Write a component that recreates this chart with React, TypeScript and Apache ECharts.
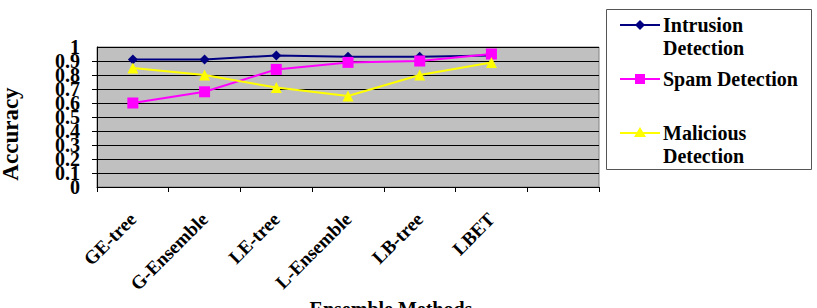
import React, { useEffect, useRef } from "react";
import * as echarts from "echarts";

const categories = ["GE-tree", "G-Ensemble", "LE-tree", "L-Ensemble", "LB-tree", "LBET", ""];
const intrusion = [0.91, 0.91, 0.94, 0.93, 0.93, 0.94];
const spam = [0.6, 0.68, 0.84, 0.89, 0.9, 0.95];
const malicious = [0.85, 0.8, 0.71, 0.65, 0.8, 0.89];
const seriesNames = ["Intrusion Detection", "Spam Detection", "Malicious Detection"];
const legendLines = [["Intrusion", "Detection"], ["Spam Detection"], ["Malicious", "Detection"]];
const colors = ["#000080", "#FF00FF", "#FFFF00"];
const symbols = ["diamond", "rect", "triangle"];

const FONT = "Times New Roman, Liberation Serif, DejaVu Serif, serif";

export default function App() {
  const ref = useRef<HTMLDivElement>(null);
  useEffect(() => {
    if (!ref.current) return;
    const chart = echarts.init(ref.current, null, { renderer: "svg" });
    const values = [intrusion, spam, malicious];
    const legendY = [25, 79, 133];
    const legendGraphics: any[] = [
      {
        type: "rect",
        shape: { x: 606.5, y: 9.5, width: 205, height: 160 },
        style: { fill: "#fff", stroke: "#555", lineWidth: 1 },
      },
    ];
    legendY.forEach((y, i) => {
      legendGraphics.push({
        type: "line",
        shape: { x1: 620, y1: y, x2: 660, y2: y },
        style: { stroke: colors[i], lineWidth: 2 },
      });
      if (i === 0) {
        legendGraphics.push({
          type: "polygon",
          shape: { points: [[640, y - 5], [645, y], [640, y + 5], [635, y]] },
          style: { fill: colors[i] },
        });
      } else if (i === 1) {
        legendGraphics.push({
          type: "rect",
          shape: { x: 635, y: y - 5, width: 10, height: 10 },
          style: { fill: colors[i] },
        });
      } else {
        legendGraphics.push({
          type: "polygon",
          shape: { points: [[640, y - 6], [646, y + 4], [634, y + 4]] },
          style: { fill: colors[i] },
        });
      }
      legendLines[i].forEach((t, k) => {
        legendGraphics.push({
          type: "text",
          x: 663,
          y: y + k * 23,
          style: {
            text: t,
            fontFamily: FONT,
            fontWeight: "bold",
            fontSize: 20,
            fill: "#000",
            verticalAlign: "middle",
          },
        });
      });
    });

    const yLabelStyle = {
      color: "#000",
      fontFamily: FONT,
      fontWeight: "bold",
      fontSize: 20,
      margin: 17,
      formatter: (v: number) => String(Math.round(v * 10) / 10),
    };

    chart.setOption({
      animation: false,
      backgroundColor: "#fff",
      grid: {
        left: 97,
        right: 218,
        top: 47,
        bottom: 121,
        show: true,
        backgroundColor: "#C0C0C0",
        borderColor: "#808080",
        borderWidth: 1,
      },
      xAxis: {
        type: "category",
        data: categories,
        boundaryGap: true,
        axisLine: { lineStyle: { color: "#000", width: 1 } },
        axisTick: { show: true, length: 5, inside: false, lineStyle: { color: "#000" } },
        axisLabel: {
          rotate: 45,
          interval: 0,
          margin: 29,
          color: "#000",
          fontFamily: FONT,
          fontWeight: "bold",
          fontSize: 19,
        },
        splitLine: { show: false },
      },
      yAxis: [
        {
          type: "value",
          min: 0,
          max: 1,
          interval: 0.1,
          axisLine: { show: true, lineStyle: { color: "#000" } },
          axisTick: { show: true, length: 5, lineStyle: { color: "#000" } },
          axisLabel: { ...yLabelStyle, showMinLabel: false, showMaxLabel: false },
          splitLine: { show: true, lineStyle: { color: "#000", width: 1 } },
        },
        {
          type: "value",
          position: "left",
          offset: 0,
          min: 0,
          max: 1,
          interval: 1,
          axisLine: { show: false },
          axisTick: { show: false },
          splitLine: { show: false },
          axisLabel: { ...yLabelStyle, showMinLabel: true, showMaxLabel: true },
        },
      ],
      series: seriesNames.map((name, i) => ({
        name,
        type: "line",
        yAxisIndex: 0,
        data: values[i],
        symbol: symbols[i],
        symbolSize: i === 0 ? 10 : 11,
        lineStyle: { color: colors[i], width: 2 },
        itemStyle: { color: colors[i] },
      })),
      graphic: [
        {
          type: "text",
          x: 10,
          y: 134,
          rotation: Math.PI / 2,
          style: {
            text: "Accuracy",
            fontFamily: FONT,
            fontWeight: "bold",
            fontSize: 23,
            fill: "#000",
            align: "center",
            verticalAlign: "middle",
          },
        },
        {
          type: "text",
          x: 391,
          y: 299,
          style: {
            text: "Ensemble Methods",
            fontFamily: FONT,
            fontWeight: "bold",
            fontSize: 20,
            fill: "#000",
            align: "center",
            verticalAlign: "top",
          },
        },
        ...legendGraphics,
      ],
    });
    return () => chart.dispose();
  }, []);
  return (
    <div
      ref={ref}
      style={{ position: "fixed", left: 0, top: 0, width: 817, height: 308 }}
    />
  );
}
